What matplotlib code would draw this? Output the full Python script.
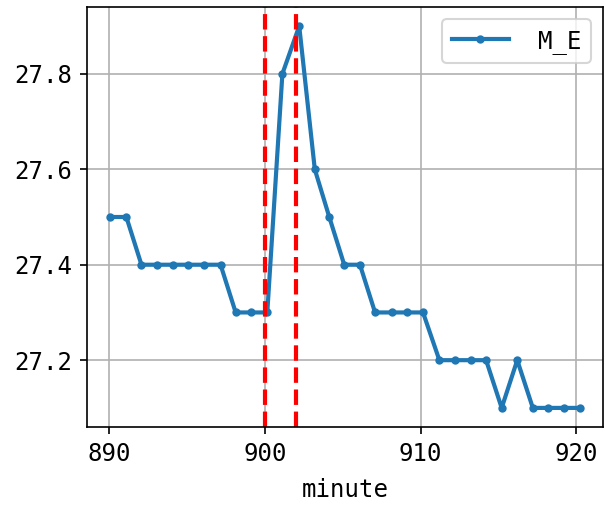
import matplotlib
matplotlib.use("Agg")
import matplotlib.pyplot as plt

plt.rcParams['font.family'] = ['DejaVu Sans Mono', 'DejaVu Sans']
plt.rcParams['font.size'] = 11.5

# minutes (timestamps are not exactly on the minute)
minute = [890.08, 891.10, 892.07, 893.07, 894.07, 895.07, 896.07, 897.15,
          898.12, 899.12, 900.15, 901.12, 902.20, 903.20, 904.13, 905.09,
          906.10, 907.07, 908.14, 909.14, 910.15, 911.20, 912.20, 913.20,
          914.20, 915.20, 916.20, 917.20, 918.20, 919.20, 920.20]
m_e = [27.5, 27.5, 27.4, 27.4, 27.4, 27.4, 27.4, 27.4,
       27.3, 27.3, 27.3, 27.8, 27.9, 27.6, 27.5, 27.4,
       27.4, 27.3, 27.3, 27.3, 27.3, 27.2, 27.2, 27.2,
       27.2, 27.1, 27.2, 27.1, 27.1, 27.1, 27.1]
events = [900, 902]

fig = plt.figure(figsize=(606/150, 506/150), dpi=150)
ax = fig.add_axes([87/606, 79/506, 516/606, 420/506])

ax.plot(minute, m_e, marker='.', lw=2, color='#1f77b4', label='M_E')
for e in events:
    ax.axvline(e, color='red', ls='--', lw=2)

ax.set_xticks([890, 900, 910, 920])
ax.set_yticks([27.2, 27.4, 27.6, 27.8])
ax.grid(True)
ax.set_xlabel('minute', labelpad=6)
ax.legend(loc='upper right', handlelength=2.4, handletextpad=1.2)

fig.savefig('out.png', dpi=150)
